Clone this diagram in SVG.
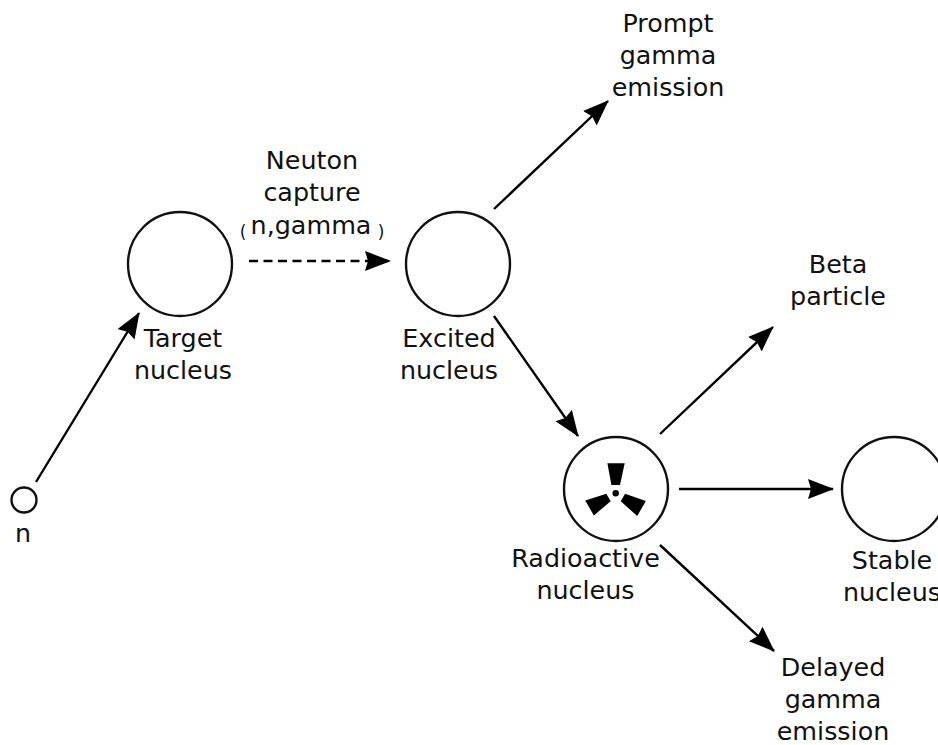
<svg xmlns="http://www.w3.org/2000/svg" width="938" height="745" viewBox="0 0 938 745">
<style>
text{font-family:"DejaVu Sans",sans-serif;font-size:25.400px;fill:#111;text-anchor:middle}
.n{fill:#fff;stroke:#111;stroke-width:2.400}
.c{stroke:#000;stroke-width:2.400;fill:none;marker-end:url(#a)}
</style>
<defs><marker id="a" markerUnits="userSpaceOnUse" markerWidth="28" markerHeight="22" refX="25" refY="10" orient="auto"><path d="M0 0L26 10L0 20L3 10Z" fill="#000"/></marker>
<path id="b" d="M-8.300 -30H9L4.300 -8.300H-4.300Z" fill="#000"/></defs>
<rect width="938" height="745" fill="#fff"/>
<g id="connectors">
<path class="c" d="M36 482L139 313"/>
<path class="c" d="M249 261H390" stroke-dasharray="9 5.500"/>
<path class="c" d="M494 209L608 101"/>
<path class="c" d="M494 316L578 436"/>
<path class="c" d="M660 434L773 327"/>
<path class="c" d="M679 489H833"/>
<path class="c" d="M660 545L774 651"/>
</g>
<g id="n"><circle class="n" cx="24" cy="500" r="12.500"/><text x="23" y="542">n</text></g>
<g id="target"><circle class="n" cx="180" cy="264" r="52"/><text x="183" y="347">Target</text><text x="183" y="379">nucleus</text></g>
<g id="capture"><text x="312" y="169">Neuton</text><text x="312" y="201">capture</text><text x="311" y="234">n,gamma</text><text x="243" y="238" style="font-size:17px">(</text><text x="381" y="238" style="font-size:17px">)</text></g>
<g id="excited"><circle class="n" cx="458" cy="264" r="52"/><text x="449" y="347">Excited</text><text x="449" y="379">nucleus</text></g>
<g id="prompt"><text x="668" y="32">Prompt</text><text x="668" y="64">gamma</text><text x="668" y="96">emission</text></g>
<g id="beta"><text x="838" y="273">Beta</text><text x="838" y="305">particle</text></g>
<g id="radioactive"><circle class="n" cx="616" cy="489" r="52"/>
<g transform="translate(615.700 493.300)"><use href="#b"/><use href="#b" transform="rotate(120)"/><use href="#b" transform="rotate(240)"/><circle r="3.200" fill="#000"/></g>
<text x="585.500" y="567">Radioactive</text><text x="585.500" y="599">nucleus</text></g>
<g id="stable"><circle class="n" cx="894" cy="489" r="52"/><text x="892" y="569">Stable</text><text x="892" y="601">nucleus</text></g>
<g id="delayed"><text x="833" y="676">Delayed</text><text x="833" y="708">gamma</text><text x="833" y="740">emission</text></g>
</svg>
